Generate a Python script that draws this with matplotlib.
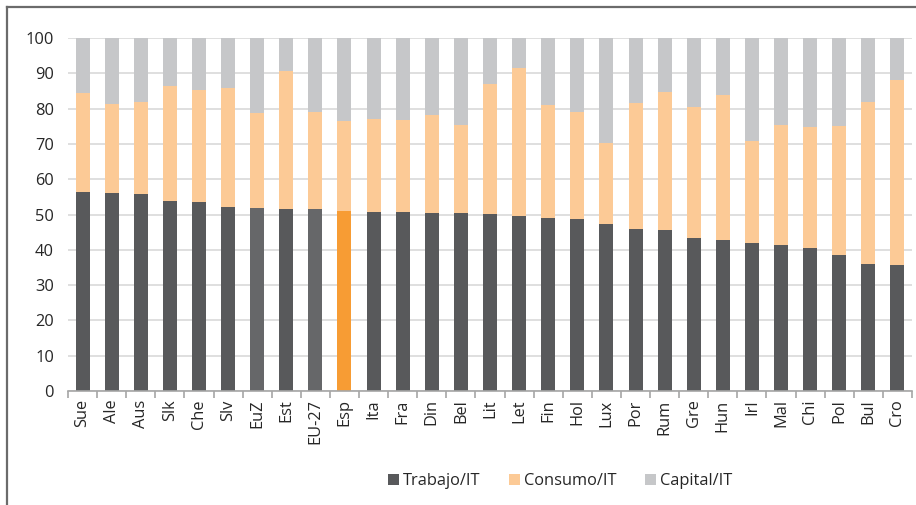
import matplotlib
matplotlib.use("Agg")
import matplotlib.pyplot as plt
from matplotlib.patches import Patch
from matplotlib.lines import Line2D

categories = ["Sue", "Ale", "Aus", "Slk", "Che", "Slv", "EuZ", "Est", "EU-27", "Esp",
              "Ita", "Fra", "Din", "Bel", "Lit", "Let", "Fin", "Hol", "Lux", "Por",
              "Rum", "Gre", "Hun", "Irl", "Mal", "Chi", "Pol", "Bul", "Cro"]
trabajo = [56.5, 56.0, 55.8, 53.7, 53.5, 52.1, 51.9, 51.6, 51.5, 50.9,
           50.8, 50.7, 50.4, 50.4, 50.2, 49.7, 49.0, 48.8, 47.2, 45.9,
           45.6, 43.4, 42.9, 42.0, 41.3, 40.5, 38.4, 36.0, 35.8]
consumo = [27.9, 25.3, 26.0, 32.8, 31.9, 33.7, 26.8, 39.0, 27.4, 25.6,
           26.3, 26.0, 27.9, 25.0, 36.9, 41.8, 32.0, 30.2, 23.0, 35.7,
           39.2, 37.0, 40.9, 28.8, 34.0, 34.4, 36.8, 45.9, 52.3]
capital = [15.6, 18.7, 18.2, 13.5, 14.6, 14.2, 21.3, 9.4, 21.1, 23.5,
           22.9, 23.3, 21.7, 24.6, 12.9, 8.5, 19.0, 21.0, 29.8, 18.4,
           15.2, 19.6, 16.2, 29.2, 24.7, 25.1, 24.8, 18.1, 11.9]
series_names = ["Trabajo/IT", "Consumo/IT", "Capital/IT"]
yticks = [0, 10, 20, 30, 40, 50, 60, 70, 80, 90, 100]

DARK = "#58595B"
AGG = "#666769"
ESP = "#F79C34"
CONS = "#FCCA96"
CAP = "#C6C7C9"

plt.rcParams['font.family'] = ['Open Sans', 'DejaVu Sans']

W, H = 916, 505
fig = plt.figure(figsize=(W / 100, H / 100), dpi=100)
ax = fig.add_axes([68 / W, 1 - 391 / H, (912 - 68) / W, (391 - 38) / H])

x = list(range(len(categories)))
tcolors = []
for c in categories:
    if c == "Esp":
        tcolors.append(ESP)
    elif c in ("EuZ", "EU-27"):
        tcolors.append(AGG)
    else:
        tcolors.append(DARK)

bw = 0.48
bottoms2 = trabajo
bottoms3 = [a + b for a, b in zip(trabajo, consumo)]
ax.bar(x, trabajo, width=bw, color=tcolors, zorder=3)
ax.bar(x, consumo, width=bw, bottom=bottoms2, color=CONS, zorder=3)
ax.bar(x, capital, width=bw, bottom=bottoms3, color=CAP, zorder=3)

ax.set_xlim(-0.5, len(categories) - 0.5)
ax.set_ylim(0, 100)
ax.set_yticks(yticks)
ax.yaxis.grid(True, color="#D9D9D9", linewidth=1.2, zorder=0)
ax.set_axisbelow(True)
for s in ["top", "right", "left"]:
    ax.spines[s].set_visible(False)
ax.spines["bottom"].set_color("#A6A6A6")
ax.spines["bottom"].set_linewidth(1.2)
ax.spines["bottom"].set_zorder(4)
ax.tick_params(axis="y", length=0, labelsize=11.8, pad=10, labelcolor="#262626")

ax.set_xticks(x)
ax.set_xticklabels(categories, rotation=90, fontsize=11.8, color="#262626")
ax.set_xticks([i - 0.5 for i in range(len(categories) + 1)], minor=True)
ax.tick_params(axis="x", which="major", length=0, pad=6)
ax.tick_params(axis="x", which="minor", length=5, color="#A6A6A6", width=1.2)

handles = [Patch(facecolor=DARK, edgecolor="none"),
           Patch(facecolor=CONS, edgecolor="none"),
           Patch(facecolor=CAP, edgecolor="none")]
fig.legend(handles, series_names, loc="center", bbox_to_anchor=(560 / W, 1 - 481 / H),
           ncol=3, frameon=False, fontsize=11.8, handlelength=0.7, handleheight=0.7,
           handletextpad=0.25, columnspacing=1.7, labelcolor="#262626")

# outer chart frame (top and left visible)
fig.add_artist(Line2D([7 / W, 7 / W], [0, 1 - 7 / H], transform=fig.transFigure,
                      color="#6B6B6B", linewidth=1.6))
fig.add_artist(Line2D([7 / W, 1], [1 - 7 / H, 1 - 7 / H], transform=fig.transFigure,
                      color="#6B6B6B", linewidth=1.6))

fig.savefig("out.png", dpi=100)
